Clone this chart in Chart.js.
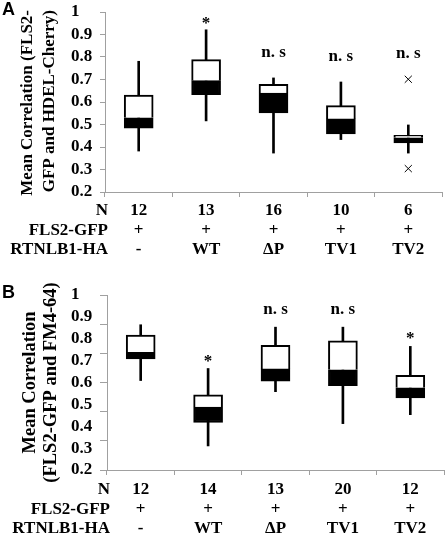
<!DOCTYPE html>
<html>
<head>
<meta charset="utf-8">
<script src="https://cdn.jsdelivr.net/npm/chart.js@4.4.0/dist/chart.umd.min.js"></script>
<style>
  body { margin: 0; background: #fff; }
  .panel { position: relative; width: 448px; height: 270px; }
  .tag { position: absolute; left: 2px; font: bold 18px "Liberation Sans", Arial, sans-serif; line-height: 1; }
</style>
</head>
<body>
<div class="panel"><canvas id="chartA" width="448" height="270"></canvas><span class="tag" style="top:0px">A</span></div>
<div class="panel"><canvas id="chartB" width="448" height="270"></canvas><span class="tag" style="top:13px">B</span></div>
<script>
// categories and table rows under the axis
let groups = ['-', 'WT', 'ΔP', 'TV1', 'TV2'];
let flsRow = ['+', '+', '+', '+', '+'];
let rowNames = ['N', 'FLS2-GFP', 'RTNLB1-HA'];

// panel A: FLS2-GFP vs HDEL-Cherry
let nA = [12, 13, 16, 10, 6];
let minA = [0.382, 0.516, 0.373, 0.433, 0.373];
let q1A = [0.484, 0.633, 0.551, 0.458, 0.418];
let medA = [0.530, 0.695, 0.640, 0.525, 0.441];
let q3A = [0.631, 0.788, 0.679, 0.584, 0.452];
let maxA = [0.781, 0.921, 0.707, 0.689, 0.498];
let outA = [{x: 'TV2', y: 0.701}, {x: 'TV2', y: 0.304}];
let sigA = ['', '*', 'n. s', 'n. s', 'n. s'];

// panel B: FLS2-GFP vs FM4-64
let nB = [12, 14, 13, 20, 12];
let minB = [0.609, 0.310, 0.558, 0.412, 0.453];
let q1B = [0.708, 0.417, 0.606, 0.586, 0.529];
let medB = [0.738, 0.488, 0.662, 0.658, 0.576];
let q3B = [0.817, 0.544, 0.770, 0.791, 0.633];
let maxB = [0.864, 0.664, 0.853, 0.853, 0.765];
let outB = [];
let sigB = ['', '*', 'n. s', 'n. s', '*'];

let serif = '"Liberation Serif", "Times New Roman", serif';
let axisGray = '#a0a0a0';
let lineH = 19.5;

// y title, stars, n.s and the row names left of the tick labels
let annotate = {
  id: 'annotate',
  afterDraw(chart, args, opts) {
    let ctx = chart.ctx;
    let xs = chart.scales.x, ys = chart.scales.y;
    ctx.save();
    ctx.fillStyle = '#000';

    // rotated two-line axis title
    ctx.save();
    ctx.font = 'bold ' + opts.titleSize + 'px ' + serif;
    let ty = opts.titleAlign === 'end' ? ys.top - 2 : (ys.top + ys.bottom) / 2;
    ctx.textAlign = opts.titleAlign === 'end' ? 'right' : 'center';
    ctx.textBaseline = 'middle';
    opts.title.forEach((t, j) => {
      ctx.save();
      ctx.translate(opts.titleX[j], ty);
      ctx.rotate(-Math.PI / 2);
      ctx.fillText(t, 0, 0);
      ctx.restore();
    });
    ctx.restore();

    ctx.font = 'bold 17px ' + serif;
    ctx.textAlign = 'center';
    ctx.textBaseline = 'alphabetic';
    opts.sig.forEach((s, i) => {
      if (!s) return;
      let top = opts.max[i];
      opts.out.forEach(o => { if (o.x === groups[i]) top = Math.max(top, o.y); });
      let gap = s === '*' ? opts.starGap : opts.nsGap;
      ctx.fillText(s, xs.getPixelForValue(i), ys.getPixelForValue(top) - gap);
    });
    ctx.textAlign = 'right';
    ctx.textBaseline = 'middle';
    let y0 = xs.top + 5 + opts.labelPad;
    rowNames.forEach((r, j) => ctx.fillText(r, xs.left + 3, y0 + lineH * (j + 0.5)));
    ctx.restore();
  }
};

function makeChart(id, d, lay) {
  let ctx = document.getElementById(id).getContext('2d');
  let scales = {
    x: {
      grid: { offset: true, drawOnChartArea: false, drawTicks: true, tickLength: 5, color: axisGray },
      border: { color: axisGray, width: 1 },
      ticks: {
        color: '#000', padding: lay.labelPad, maxRotation: 0, autoSkip: false,
        font: { family: serif, size: 17, weight: 'bold', lineHeight: lineH / 17 },
        callback: (v, i) => [String(d.n[i]), flsRow[i], groups[i]]
      },
      afterFit: s => { s.height = lay.xHeight; }
    },
    y: {
      min: 0.2, max: 1, weight: 1,
      grid: { drawOnChartArea: false, drawTicks: !lay.oddTicks, tickLength: 5, color: axisGray },
      border: { color: axisGray, width: 1 },
      ticks: {
        stepSize: 0.1, autoSkip: false, color: '#000', crossAlign: 'far',
        font: { family: serif, size: 17, weight: 'bold', lineHeight: 1 },
        callback: v => String(Math.round(v * 10) / 10)
      },
      afterFit: s => { s.width = lay.yWidth; }
    }
  };
  if (lay.oddTicks) {
    scales.y2 = {
      min: 0.2, max: 1, weight: 0, position: 'left',
      grid: { drawOnChartArea: false, drawTicks: true, tickLength: 7, color: axisGray },
      border: { display: false },
      ticks: { count: 7, display: false },
      afterFit: s => { s.width = 0; }
    };
  }
  return new Chart(ctx, {
    type: 'bar',
    data: {
      labels: groups,
      datasets: [
        {
          label: 'outliers', type: 'line', data: d.out, showLine: false,
          pointStyle: 'crossRot', pointRadius: 5, borderColor: '#000', borderWidth: 1, order: 0
        },
        {
          label: 'lower', data: d.q1.map((v, i) => [v, d.med[i]]),
          backgroundColor: '#000', borderColor: '#000', borderWidth: 2, borderSkipped: false,
          grouped: false, barThickness: 29, order: 1
        },
        {
          label: 'upper', data: d.med.map((v, i) => [v, d.q3[i]]),
          backgroundColor: '#fff', borderColor: '#000',
          borderWidth: { top: 2, left: 2, right: 2, bottom: 0 }, borderSkipped: false,
          grouped: false, barThickness: 29, order: 2
        },
        {
          label: 'whisker', data: d.min.map((v, i) => [v, d.max[i]]),
          backgroundColor: '#000', borderWidth: 0, grouped: false, barThickness: 2, order: 3
        }
      ]
    },
    options: {
      responsive: false,
      animation: false,
      layout: { padding: { top: lay.top, right: 4, left: lay.left, bottom: 0 } },
      scales: scales,
      plugins: {
        legend: { display: false },
        tooltip: { enabled: false },
        annotate: {
          sig: d.sig, max: d.max, out: d.out, title: d.title,
          titleX: lay.titleX, titleAlign: lay.titleAlign, titleSize: lay.titleSize,
          nsGap: lay.nsGap, starGap: lay.starGap, labelPad: lay.labelPad
        }
      }
    },
    plugins: [annotate]
  });
}

makeChart('chartA',
  { n: nA, min: minA, q1: q1A, med: medA, q3: q3A, max: maxA, out: outA, sig: sigA,
    title: ['Mean Correlation (FLS2-', 'GFP and HDEL-Cherry)'] },
  { top: 12, left: 71, xHeight: 78, yWidth: 34, titleX: [28, 50], titleAlign: 'end', titleSize: 17,
    labelPad: 4, nsGap: 21, starGap: 2, oddTicks: false });

makeChart('chartB',
  { n: nB, min: minB, q1: q1B, med: medB, q3: q3B, max: maxB, out: outB, sig: sigB,
    title: ['Mean Correlation', '(FLS2-GFP and FM4-64)'] },
  { top: 25, left: 71, xHeight: 70, yWidth: 36, titleX: [30, 51], titleAlign: 'center', titleSize: 18.5,
    labelPad: 5, nsGap: 13, starGap: 3, oddTicks: true });
</script>
</body>
</html>
